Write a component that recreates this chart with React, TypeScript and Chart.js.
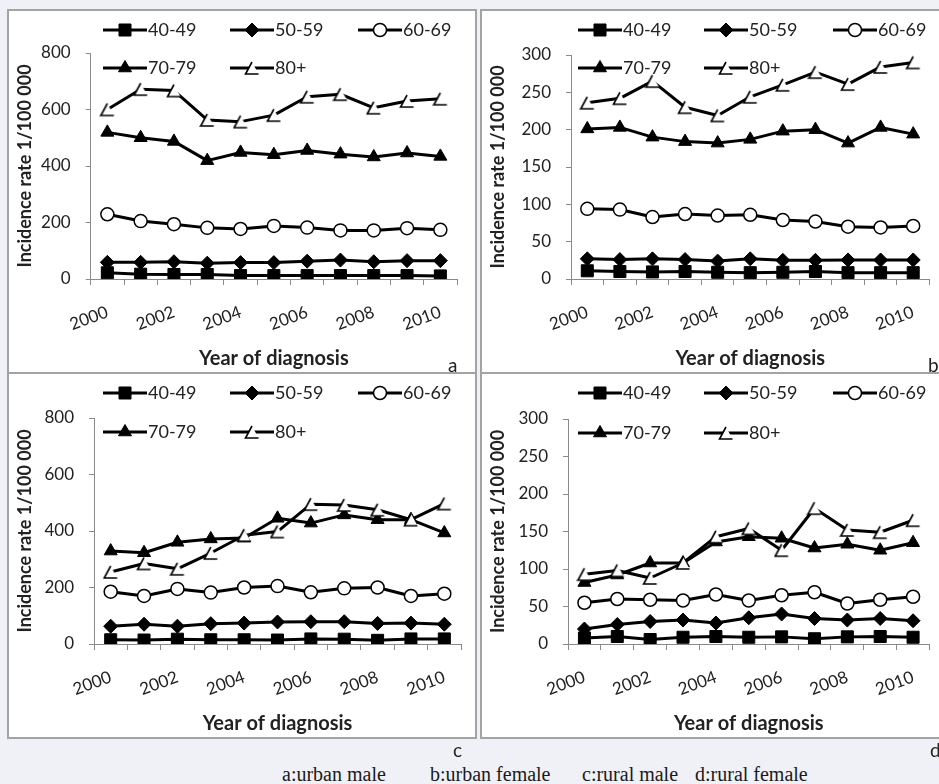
import React, { useEffect, useRef } from 'react';
import { Chart, registerables } from 'chart.js';
import { drawPoint } from 'chart.js/helpers';

Chart.register(...registerables);

// ---------- data ----------
const years = ['2000', '2001', '2002', '2003', '2004', '2005', '2006', '2007', '2008', '2009', '2010'];
const ageGroups = ['40-49', '50-59', '60-69', '70-79', '80+'];
const xTitle = 'Year of diagnosis';
const yTitle = 'Incidence rate 1/100 000';

// a: urban male
const urbanMale40 = [22, 17, 16, 16, 12, 12, 12, 12, 12, 12, 11];
const urbanMale50 = [59, 59, 61, 56, 58, 58, 63, 67, 61, 65, 65];
const urbanMale60 = [229, 205, 194, 181, 177, 188, 182, 172, 172, 180, 174];
const urbanMale70 = [519, 500, 487, 419, 448, 440, 455, 442, 432, 446, 434];
const urbanMale80 = [600, 672, 667, 563, 557, 580, 645, 654, 606, 630, 638];

// b: urban female
const urbanFemale40 = [11, 10, 9.5, 10, 9, 8.5, 9, 10, 8.5, 8.5, 8.5];
const urbanFemale50 = [27, 26, 27, 26, 24, 27, 25, 25, 25.5, 25.5, 25.5];
const urbanFemale60 = [94, 93, 83, 87, 85, 86, 79, 77, 70, 69, 71];
const urbanFemale70 = [201, 203, 190, 184, 182, 187, 198, 200, 182, 203, 194];
const urbanFemale80 = [236, 242, 265, 230, 219, 244, 260, 277, 261, 284, 290];

// c: rural male
const ruralMale40 = [15, 14, 17, 15, 15, 14, 18, 17, 13, 18, 18];
const ruralMale50 = [63, 70, 63, 72, 74, 78, 79, 79, 73, 74, 70];
const ruralMale60 = [185, 170, 195, 182, 200, 205, 183, 197, 200, 170, 178];
const ruralMale70 = [329, 323, 360, 372, 375, 445, 428, 457, 440, 440, 393];
const ruralMale80 = [255, 285, 266, 322, 385, 398, 495, 492, 475, 440, 497];

// d: rural female
const ruralFemale40 = [8, 10, 6, 9, 10, 9, 9.5, 7, 9.5, 10, 9];
const ruralFemale50 = [20, 26, 30, 32, 28, 35, 40, 34, 32, 34, 31];
const ruralFemale60 = [55, 60, 59, 58, 66, 58, 65, 69, 54, 59, 63];
const ruralFemale70 = [82, 92, 108, 108, 136, 143, 141, 128, 133, 125, 135];
const ruralFemale80 = [93, 98, 88, 108, 143, 154, 125, 181, 152, 149, 165];

const captionParts = ['a:urban male', 'b:urban female', 'c:rural male', 'd:rural female'];

// ---------- styles / layout ----------
const FONT = 'Lato, "Open Sans", sans-serif';
const TEXT = '#222222';
const AXIS = '#8a8a8a';
const BORDER = '#a3a3a3';
const PAGE_BG = '#eff1f6';

type Rect = { left: number; top: number; width: number; height: number };
type PanelSpec = {
  letter: string;
  series: number[][];
  yMax: number;
  yStep: number;
  box: Rect;
  canvas: Rect;
  plot: { left: number; top: number; right: number; bottom: number };
  legendX: number[];
  legendY: number[];
  letterPos: { left: number; top: number };
};

const panels: PanelSpec[] = [
  {
    letter: 'a',
    series: [urbanMale40, urbanMale50, urbanMale60, urbanMale70, urbanMale80],
    yMax: 800, yStep: 200,
    box: { left: 7, top: 9, width: 470, height: 365 },
    canvas: { left: 9, top: 11, width: 466, height: 361 },
    plot: { left: 90.7, top: 53, right: 457, bottom: 279 },
    legendX: [103, 230, 358], legendY: [30, 68],
    letterPos: { left: 448, top: 355 },
  },
  {
    letter: 'b',
    series: [urbanFemale40, urbanFemale50, urbanFemale60, urbanFemale70, urbanFemale80],
    yMax: 300, yStep: 50,
    box: { left: 480, top: 9, width: 470, height: 365 },
    canvas: { left: 482, top: 11, width: 457, height: 361 },
    plot: { left: 571, top: 55, right: 934, bottom: 279 },
    legendX: [578, 704, 833], legendY: [30, 68],
    letterPos: { left: 928, top: 355 },
  },
  {
    letter: 'c',
    series: [ruralMale40, ruralMale50, ruralMale60, ruralMale70, ruralMale80],
    yMax: 800, yStep: 200,
    box: { left: 7, top: 372, width: 470, height: 367 },
    canvas: { left: 9, top: 374, width: 466, height: 363 },
    plot: { left: 94, top: 418, right: 461, bottom: 644 },
    legendX: [103, 230, 358], legendY: [393, 432],
    letterPos: { left: 453, top: 740 },
  },
  {
    letter: 'd',
    series: [ruralFemale40, ruralFemale50, ruralFemale60, ruralFemale70, ruralFemale80],
    yMax: 300, yStep: 50,
    box: { left: 480, top: 372, width: 470, height: 367 },
    canvas: { left: 482, top: 374, width: 457, height: 363 },
    plot: { left: 568, top: 419, right: 934, bottom: 644 },
    legendX: [578, 704, 833], legendY: [393, 433],
    letterPos: { left: 930, top: 740 },
  },
];

const captionLeft = [282, 430, 582, 695];

function makeOpenTriangle(): HTMLCanvasElement {
  const c = document.createElement('canvas');
  c.width = 16;
  c.height = 16;
  const g = c.getContext('2d')!;
  g.fillStyle = '#ffffff';
  g.beginPath();
  g.moveTo(8, 2);
  g.lineTo(14.5, 14);
  g.lineTo(1.5, 14);
  g.closePath();
  g.fill();
  g.strokeStyle = '#000000';
  g.lineWidth = 1.6;
  g.beginPath();
  g.moveTo(8, 2);
  g.lineTo(1.5, 14);
  g.lineTo(14.5, 14);
  g.stroke();
  return c;
}

function markerStyle(i: number, tri: HTMLCanvasElement) {
  switch (i) {
    case 0:
      return { pointStyle: 'rect', pointRadius: 8.5, pointBackgroundColor: '#000', pointBorderColor: '#000', pointBorderWidth: 1 };
    case 1:
      return { pointStyle: 'rectRot', pointRadius: 7, pointBackgroundColor: '#000', pointBorderColor: '#000', pointBorderWidth: 1 };
    case 2:
      return { pointStyle: 'circle', pointRadius: 6.5, pointBackgroundColor: '#fff', pointBorderColor: '#000', pointBorderWidth: 1.5 };
    case 3:
      return { pointStyle: 'triangle', pointRadius: 7.5, pointBackgroundColor: '#000', pointBorderColor: '#000', pointBorderWidth: 1 };
    default:
      return { pointStyle: tri, pointRadius: 7, pointBackgroundColor: '#fff', pointBorderColor: '#000', pointBorderWidth: 0 };
  }
}

const excelLegend = {
  id: 'excelLegend',
  afterDraw(chart: any, _args: any, opts: any) {
    const ctx: CanvasRenderingContext2D = chart.ctx;
    const items: number[][] = opts.items || [];
    ctx.save();
    items.forEach(([dsIndex, x, y]) => {
      const ds = chart.data.datasets[dsIndex];
      const len = opts.lineLength;
      ctx.strokeStyle = ds.borderColor;
      ctx.lineWidth = ds.borderWidth;
      ctx.lineCap = 'butt';
      ctx.beginPath();
      ctx.moveTo(x, y);
      ctx.lineTo(x + len, y);
      ctx.stroke();
      ctx.fillStyle = ds.pointBackgroundColor;
      ctx.strokeStyle = ds.pointBorderColor;
      ctx.lineWidth = ds.pointBorderWidth;
      drawPoint(ctx, { pointStyle: ds.pointStyle, radius: ds.pointRadius, rotation: 0, borderWidth: ds.pointBorderWidth } as any, x + len / 2, y);
      ctx.fillStyle = opts.color;
      ctx.font = opts.font;
      ctx.textAlign = 'left';
      ctx.textBaseline = 'middle';
      ctx.fillText(ds.label, x + len + 1, y);
    });
    ctx.restore();
  },
};

function PanelChart({ spec }: { spec: PanelSpec }) {
  const ref = useRef<HTMLCanvasElement | null>(null);
  useEffect(() => {
    const tri = makeOpenTriangle();
    const { canvas, plot } = spec;
    const yWidth = plot.left - canvas.left;
    const xHeight = canvas.top + canvas.height - plot.bottom;
    const padTop = plot.top - canvas.top;
    const padRight = canvas.left + canvas.width - plot.right;

    const datasets = spec.series.map((values, i) => ({
      label: ageGroups[i],
      data: values,
      borderColor: '#000',
      borderWidth: 3,
      borderJoinStyle: 'round',
      tension: 0,
      fill: false,
      order: 4 - i,
      ...markerStyle(i, tri),
    }));

    const legendItems = [
      [0, spec.legendX[0] - canvas.left, spec.legendY[0] - canvas.top],
      [1, spec.legendX[1] - canvas.left, spec.legendY[0] - canvas.top],
      [2, spec.legendX[2] - canvas.left, spec.legendY[0] - canvas.top],
      [3, spec.legendX[0] - canvas.left, spec.legendY[1] - canvas.top],
      [4, spec.legendX[1] - canvas.left, spec.legendY[1] - canvas.top],
    ];

    const chart = new Chart(ref.current!, {
      type: 'line',
      data: { labels: years, datasets: datasets as any },
      plugins: [excelLegend as any],
      options: {
        responsive: false,
        animation: false,
        devicePixelRatio: 1,
        events: [],
        layout: { padding: { left: 0, top: padTop, right: padRight, bottom: 0 } },
        plugins: {
          legend: { display: false },
          tooltip: { enabled: false },
          excelLegend: { items: legendItems, lineLength: 44, color: TEXT, font: `18px ${FONT}` },
        } as any,
        scales: {
          x: {
            type: 'category',
            offset: true,
            grid: { offset: true, drawOnChartArea: false, drawTicks: true, tickLength: 6, color: AXIS, lineWidth: 1 },
            border: { color: AXIS, width: 1 },
            ticks: {
              autoSkip: false,
              minRotation: 20,
              maxRotation: 20,
              padding: 17,
              color: TEXT,
              font: { family: FONT, size: 17 },
              callback: (_v: any, i: number) => (i % 2 === 0 ? years[i] : ''),
            },
            title: {
              display: true,
              text: xTitle,
              color: TEXT,
              font: { family: FONT, size: 20, weight: 'bold' },
              padding: { top: 0, bottom: 1 },
            },
            afterFit: (s: any) => { s.height = xHeight; },
          },
          y: {
            min: 0,
            max: spec.yMax,
            grid: { drawOnChartArea: false, drawTicks: true, tickLength: 5, color: AXIS, lineWidth: 1 },
            border: { color: AXIS, width: 1 },
            ticks: { stepSize: spec.yStep, padding: 15, color: TEXT, font: { family: FONT, size: 17 } },
            title: {
              display: true,
              text: yTitle,
              color: TEXT,
              font: { family: FONT, size: 18, weight: 'bold' },
              padding: { top: 5, bottom: 0 },
            },
            afterFit: (s: any) => { s.width = yWidth; },
          },
        } as any,
      },
    });
    return () => chart.destroy();
  }, [spec]);

  const c = spec.canvas;
  return (
    <canvas
      ref={ref}
      width={c.width}
      height={c.height}
      style={{ position: 'absolute', left: c.left, top: c.top, width: c.width, height: c.height }}
    />
  );
}

export default function App() {
  useEffect(() => {
    document.body.style.margin = '0';
  }, []);
  return (
    <div
      style={{
        position: 'fixed',
        left: 0,
        top: 0,
        width: 939,
        height: 784,
        overflow: 'hidden',
        background: PAGE_BG,
      }}
    >
      {panels.map((p) => (
        <div
          key={'box-' + p.letter}
          style={{
            position: 'absolute',
            left: p.box.left,
            top: p.box.top,
            width: p.box.width,
            height: p.box.height,
            boxSizing: 'border-box',
            border: `2px solid ${BORDER}`,
            background: '#ffffff',
          }}
        />
      ))}
      {panels.map((p) => (
        <PanelChart key={'chart-' + p.letter} spec={p} />
      ))}
      {panels.map((p) => (
        <span
          key={'letter-' + p.letter}
          style={{
            position: 'absolute',
            left: p.letterPos.left,
            top: p.letterPos.top,
            font: `19px/19px ${FONT}`,
            color: TEXT,
            whiteSpace: 'pre',
          }}
        >
          {p.letter}
        </span>
      ))}
      {captionParts.map((t, i) => (
        <span
          key={'cap-' + i}
          style={{
            position: 'absolute',
            left: captionLeft[i],
            top: 764,
            font: `20px/20px "Liberation Serif", "Times New Roman", serif`,
            color: '#1a1a1a',
            whiteSpace: 'pre',
          }}
        >
          {t}
        </span>
      ))}
    </div>
  );
}
